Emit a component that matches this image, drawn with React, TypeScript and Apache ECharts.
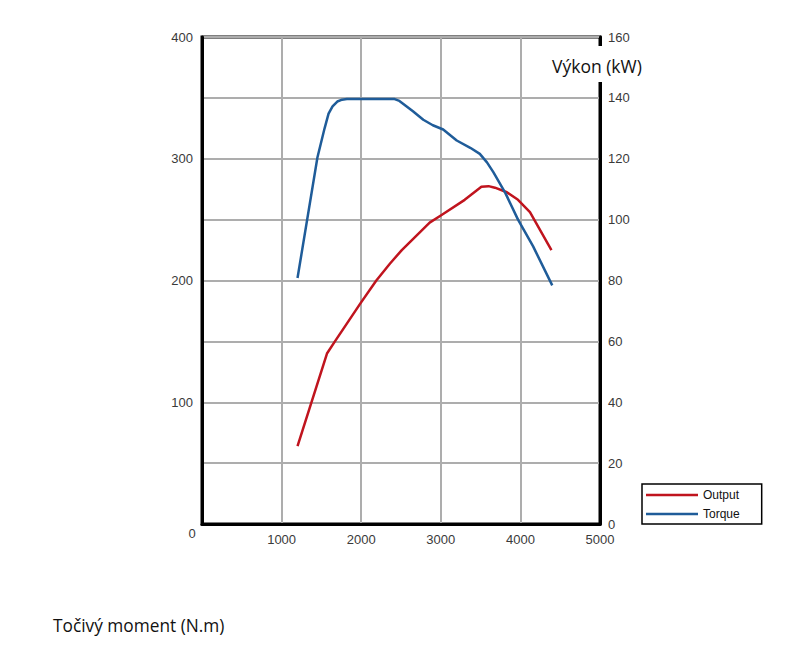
import React, { useEffect, useRef } from "react";
import * as echarts from "echarts";

const rpmTorque = [1200, 1450, 1540, 1590, 1640, 1700, 1760, 1820, 2000, 2200, 2420, 2480, 2530, 2650, 2780, 2900, 3030, 3200, 3370, 3490, 3580, 3660, 3810, 3970, 4160, 4400];
const torque = [202, 301, 325, 337, 343, 347, 348.5, 349, 349, 349, 349, 347.5, 345, 339, 332, 327.5, 324, 315, 309, 304, 297, 289, 272, 250, 228, 196];

const rpmOutput = [1200, 1570, 1670, 1990, 2190, 2360, 2510, 2860, 3010, 3300, 3510, 3600, 3680, 3830, 3970, 4120, 4390];
const output = [25.6, 56, 60, 72.5, 80, 85.5, 90, 99, 101.5, 106.5, 110.8, 111, 110.5, 109, 106.5, 102.5, 90];

const seriesNames = ["Output", "Torque"];
const rightAxisTitle = "Výkon (kW)";
const bottomTitle = "Točivý moment (N.m)";

export default function App() {
  const ref = useRef<HTMLDivElement>(null);
  useEffect(() => {
    if (!ref.current) return;
    const chart = echarts.init(ref.current, undefined, { renderer: "svg" });
    const labelStyle = { color: "#3a3a3a", fontSize: 13, fontFamily: "Liberation Sans, Arial, sans-serif" };
    chart.setOption({
      animation: false,
      backgroundColor: "#fff",
      grid: {
        left: 202, right: 200, top: 37, bottom: 127,
        show: true, borderColor: "#000", borderWidth: 3,
      },
      legend: {
        orient: "vertical",
        left: 642, top: 484,
        icon: "rect",
        itemWidth: 52, itemHeight: 2.5, itemGap: 7,
        padding: [5, 22, 4, 4],
        borderColor: "#000", borderWidth: 1.5,
        backgroundColor: "#fff",
        data: seriesNames,
        textStyle: { color: "#111", fontSize: 12, fontFamily: "Liberation Sans, Arial, sans-serif" },
      },
      xAxis: {
        type: "value", min: 0, max: 5000, interval: 1000,
        axisLine: { show: true, lineStyle: { color: "#000", width: 3 } },
        axisTick: { show: false },
        axisLabel: { ...labelStyle, margin: 9, showMinLabel: false, formatter: (v: number) => String(v) },
        splitLine: { show: true, lineStyle: { color: "#adadad", width: 2 } },
      },
      yAxis: [
        {
          type: "value", min: 0, max: 400, interval: 50,
          axisLine: { show: true, lineStyle: { color: "#000", width: 3 } },
          axisTick: { show: false },
          axisLabel: {
            ...labelStyle, margin: 9, showMinLabel: false,
            formatter: (v: number) => (v % 100 === 0 ? String(v) : ""),
          },
          splitLine: { show: true, lineStyle: { color: "#adadad", width: 2 } },
        },
        {
          type: "value", min: 0, max: 160, interval: 20, position: "right",
          axisLine: { show: true, lineStyle: { color: "#000", width: 3 } },
          axisTick: { show: false },
          axisLabel: { ...labelStyle, margin: 8, formatter: (v: number) => String(v) },
          splitLine: { show: false },
        },
      ],
      series: [
        {
          name: "Output", type: "line", yAxisIndex: 1,
          data: rpmOutput.map((x, i) => [x, output[i]]),
          symbol: "none", smooth: false,
          lineStyle: { color: "#c0141e", width: 2.5, join: "round" },
          itemStyle: { color: "#c0141e" },
          z: 3,
        },
        {
          name: "Torque", type: "line", yAxisIndex: 0,
          data: rpmTorque.map((x, i) => [x, torque[i]]),
          symbol: "none", smooth: false,
          lineStyle: { color: "#1f5c99", width: 2.5, join: "round" },
          itemStyle: { color: "#1f5c99" },
          z: 4,
        },
      ],
      graphic: [
        { type: "rect", shape: { x: 549, y: 46, width: 100, height: 36 }, style: { fill: "#fff" }, z: 100 },
        {
          type: "text", x: 552, y: 57, z: 101,
          style: { text: rightAxisTitle, fill: "#111", fontSize: 17.5, fontFamily: "Open Sans, Noto Sans, sans-serif" },
        },
        {
          type: "text", x: 192, y: 533, z: 101,
          style: { text: "0", fill: "#3a3a3a", fontSize: 13, fontFamily: "Liberation Sans, Arial, sans-serif", align: "center", verticalAlign: "middle" },
        },
        {
          type: "text", x: 53, y: 617, z: 101,
          style: { text: bottomTitle, fill: "#111", fontSize: 17.3, fontFamily: "Open Sans, Noto Sans, sans-serif" },
        },
      ],
    });
    return () => chart.dispose();
  }, []);
  return <div ref={ref} style={{ position: "fixed", left: 0, top: 0, width: 800, height: 651 }} />;
}
